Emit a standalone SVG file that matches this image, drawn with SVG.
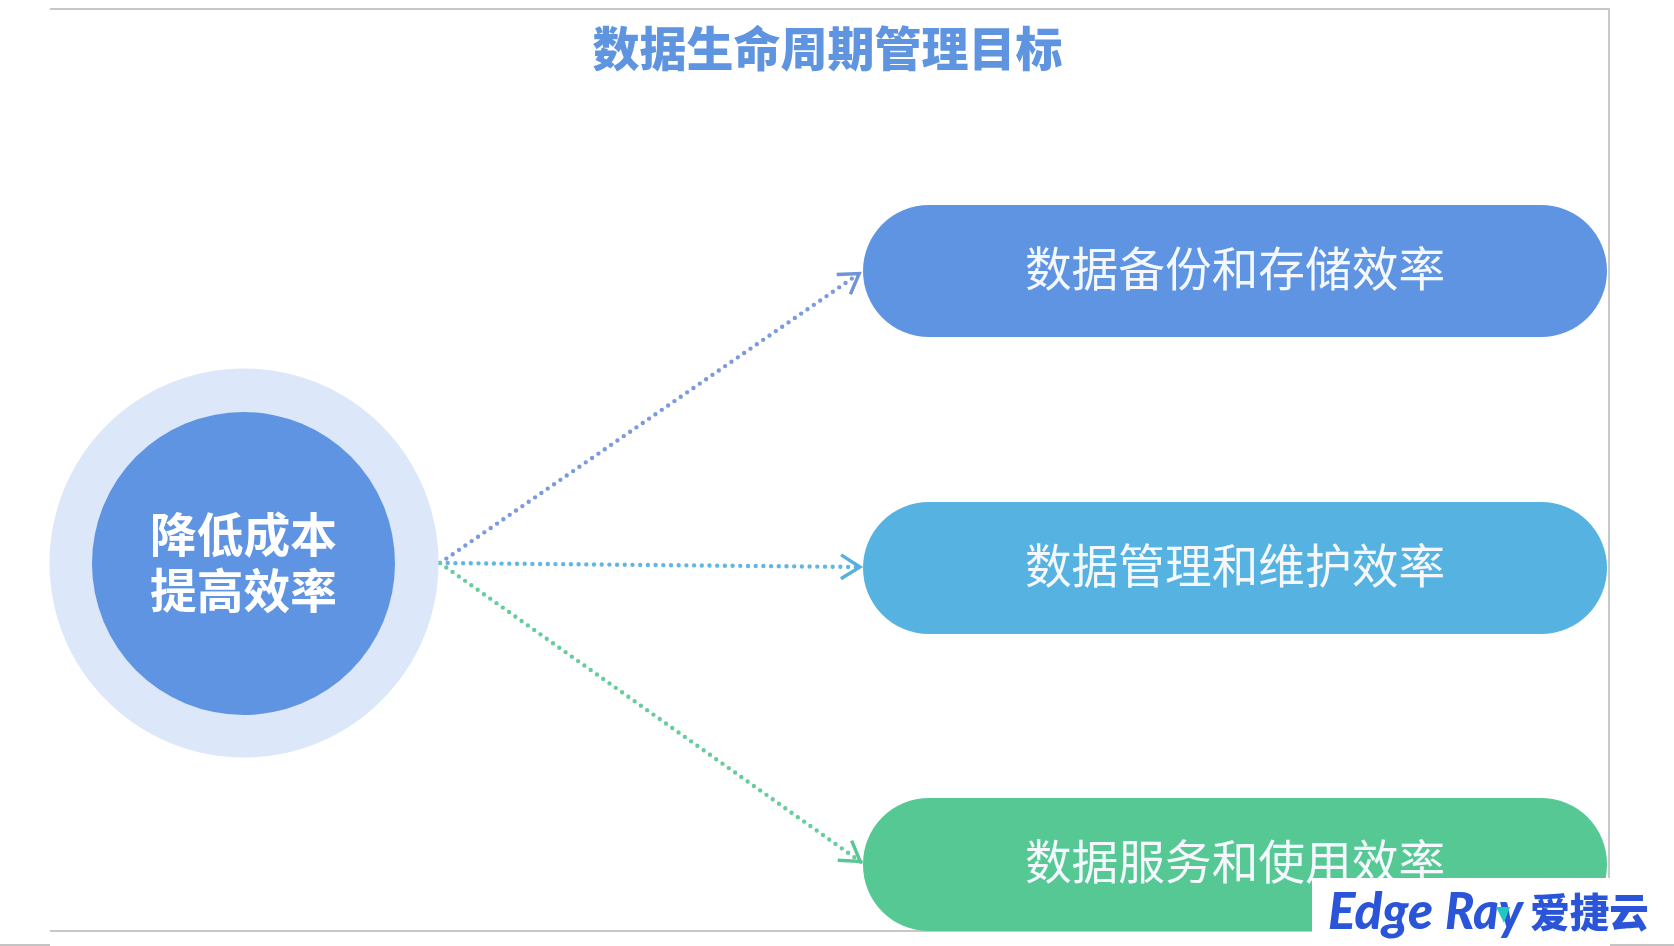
<svg xmlns="http://www.w3.org/2000/svg" width="1674" height="946" viewBox="0 0 1674 946">
<style>
text{font-family:"Noto Sans CJK SC","Liberation Sans",sans-serif;text-anchor:middle}
.soft{filter:url(#soft)}
.title{font-size:47px;font-weight:900;fill:#5f94e0}
.pill{font-size:46.7px;font-weight:400;fill:#f4f8fd}
.center{font-size:46.7px;font-weight:700;fill:#fff}
.conn{fill:none;stroke-width:4.4;stroke-linecap:round;stroke-dasharray:0 7.7}
.head{fill:none;stroke-width:3.4}
.frame{stroke:#c8c8c8;stroke-width:2;fill:none}
.logo{font-weight:900;fill:#2b55d9}
.en{font-family:"Lato","Liberation Sans",sans-serif;font-size:52px;font-style:italic;font-weight:900;text-anchor:start}
</style>
<defs>
<filter id="soft" x="-10%" y="-30%" width="120%" height="160%"><feGaussianBlur stdDeviation="0.7"/></filter>
<marker id="a1" markerUnits="userSpaceOnUse" markerWidth="30" markerHeight="30" refX="22" refY="15" orient="auto"><path class="head" stroke="#6f93dc" d="M2,3 L21,15 L2,27"/></marker>
<marker id="a2" markerUnits="userSpaceOnUse" markerWidth="30" markerHeight="30" refX="22" refY="15" orient="auto"><path class="head" stroke="#56b0e0" d="M2,3 L21,15 L2,27"/></marker>
<marker id="a3" markerUnits="userSpaceOnUse" markerWidth="30" markerHeight="30" refX="22" refY="15" orient="auto"><path class="head" stroke="#58c793" d="M2,3 L21,15 L2,27"/></marker>
</defs>
<rect width="1674" height="946" fill="#fff"/>
<g id="frame">
<path class="frame" d="M50,9 H1609 V878"/>
<path class="frame" d="M50,931 H1312"/>
<path d="M0,944 H50 V946 H0Z M1610,944 H1674 V946 H1610Z" fill="#c4c4c4"/>
</g>
<g id="title"><text class="title soft" x="827.5" y="66">数据生命周期管理目标</text></g>
<g id="connectors" class="soft">
<line class="conn" x1="440" y1="563" x2="860" y2="273" stroke="#7c9ade" marker-end="url(#a1)"/>
<line class="conn" x1="440" y1="563" x2="861" y2="567" stroke="#63b6e3" marker-end="url(#a2)"/>
<line class="conn" x1="440" y1="563" x2="861" y2="862" stroke="#68cc9d" marker-end="url(#a3)"/>
</g>
<g id="center-node">
<circle cx="244" cy="563" r="194.5" fill="#dce7f9"/>
<circle cx="243.5" cy="563.5" r="151.5" fill="#5f94e2"/>
<text class="center soft"><tspan x="243.5" y="552">降低成本</tspan><tspan x="243.5" y="608">提高效率</tspan></text>
</g>
<g id="node-backup">
<rect x="863" y="205" width="744" height="132" rx="66" fill="#5f94e2"/>
<text class="pill soft" x="1235" y="286">数据备份和存储效率</text>
</g>
<g id="node-manage">
<rect x="863" y="502" width="744" height="132" rx="66" fill="#55b2e1"/>
<text class="pill soft" x="1235" y="583">数据管理和维护效率</text>
</g>
<g id="node-service">
<rect x="863" y="798" width="744" height="133" rx="66" fill="#55c894"/>
<text class="pill soft" x="1235" y="879">数据服务和使用效率</text>
</g>
<g id="logo">
<rect x="1312" y="878" width="298" height="68" fill="#fff"/>
<text class="logo en soft" x="1328" y="929" textLength="105" lengthAdjust="spacingAndGlyphs">Edge</text>
<text class="logo en soft" x="1445" y="929" textLength="78" lengthAdjust="spacingAndGlyphs">Ray</text>
<polygon points="1496,907 1510,907 1504,923" fill="#22c7c0"/>
<text class="logo soft" x="1589.5" y="926.5" font-size="39.5">爱捷云</text>
</g>
</svg>
